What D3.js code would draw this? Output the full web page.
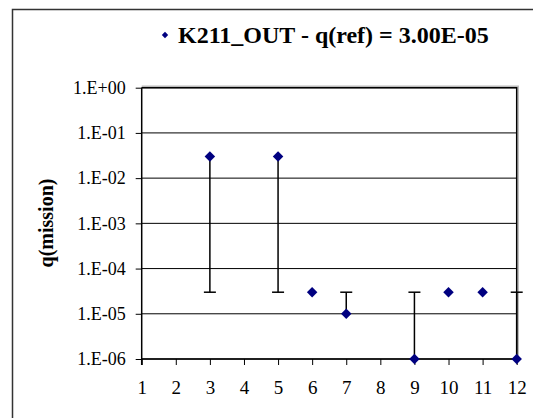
<!DOCTYPE html>
<html>
<head>
<meta charset="utf-8">
<script src="https://cdn.jsdelivr.net/npm/d3@7"></script>
<style>
  body { margin: 0; background: #fff; }
  text { font-family: "Liberation Serif", "Times New Roman", serif; }
</style>
</head>
<body>
<script>
// data
var xValues = [3, 5, 6, 7, 9, 10, 11, 12];
var qMission = [3e-2, 3e-2, 3e-5, 1e-5, 1e-6, 3e-5, 3e-5, 1e-6];
var qRef = 3e-5;
var yTicks = [1e0, 1e-1, 1e-2, 1e-3, 1e-4, 1e-5, 1e-6];
var xTicks = [1, 2, 3, 4, 5, 6, 7, 8, 9, 10, 11, 12];
var seriesName = 'K211_OUT - q(ref) = 3.00E-05';

var width = 533, height = 418;
var pL = 141.7, pR = 516.7, pT = 87.7, pB = 359;

var svg = d3.select('body').append('svg')
    .attr('width', width).attr('height', height);

// outer chart border (runs off the picture)
svg.append('rect')
    .attr('x', 12.5).attr('y', 9.5)
    .attr('width', 540).attr('height', 430)
    .attr('fill', 'none').attr('stroke', '#333').attr('stroke-width', 1.5);

var x = d3.scaleLinear().domain([1, 12]).range([pL, pR]);
var y = d3.scaleLog().domain([1e-6, 1]).range([pB, pT]);

function fmt(d) {
    var e = Math.round(Math.log10(d));
    var s = Math.abs(e) < 10 ? '0' + Math.abs(e) : '' + Math.abs(e);
    return '1.E' + (e < 0 ? '-' : '+') + s;
}

// gridlines
svg.append('g').selectAll('line').data(yTicks).enter().append('line')
    .attr('x1', pL).attr('x2', pR)
    .attr('y1', function(d) { return y(d); })
    .attr('y2', function(d) { return y(d); })
    .attr('stroke', '#000').attr('stroke-width', 1);

// plot area border with shadow
svg.append('path')
    .attr('d', 'M' + pL + ',' + (pT - 1.5) + 'H' + (pR + 1.5) + 'V' + pB)
    .attr('fill', 'none').attr('stroke', '#bbb').attr('stroke-width', 1.5);
svg.append('path')
    .attr('d', 'M' + pL + ',' + pT + 'H' + pR + 'V' + pB)
    .attr('fill', 'none').attr('stroke', '#000').attr('stroke-width', 1.5);

// y axis
var yAxis = svg.append('g')
    .attr('transform', 'translate(' + pL + ',0)')
    .call(d3.axisLeft(y).tickValues(yTicks).tickFormat(fmt).tickSize(6).tickPadding(10));
yAxis.select('.domain').attr('d', 'M0,' + pT + 'V' + (pB + 6)).attr('stroke', '#000').attr('stroke-width', 1.5);
yAxis.selectAll('.tick line').attr('stroke', '#000');
yAxis.selectAll('text').attr('font-size', 18).attr('fill', '#000')
    .style('font-family', '"Liberation Serif", serif');

// x axis
var xAxis = svg.append('g')
    .attr('transform', 'translate(0,' + pB + ')')
    .call(d3.axisBottom(x).tickValues(xTicks).tickFormat(d3.format('d')).tickSize(6).tickPadding(16));
xAxis.select('.domain').attr('d', 'M' + pL + ',0H' + pR).attr('stroke', '#000').attr('stroke-width', 1.5);
xAxis.selectAll('.tick line').attr('stroke', '#000');
xAxis.selectAll('text').attr('font-size', 19).attr('fill', '#000')
    .style('font-family', '"Liberation Serif", serif');

// error bars to q(ref)
var bars = svg.append('g');
xValues.forEach(function(xv, i) {
    if (qMission[i] === qRef) return;
    bars.append('line')
        .attr('x1', x(xv)).attr('x2', x(xv))
        .attr('y1', y(qMission[i])).attr('y2', y(qRef))
        .attr('stroke', '#000').attr('stroke-width', 1.5);
    bars.append('line')
        .attr('x1', x(xv) - 6).attr('x2', x(xv) + 6)
        .attr('y1', y(qRef)).attr('y2', y(qRef))
        .attr('stroke', '#000').attr('stroke-width', 1.5);
});

// markers
var diamond = d3.symbol().type(d3.symbolDiamond2).size(70);
svg.append('g').selectAll('path').data(xValues).enter().append('path')
    .attr('d', diamond)
    .attr('transform', function(d, i) { return 'translate(' + x(d) + ',' + y(qMission[i]) + ')'; })
    .attr('fill', '#000080');

// legend / title
var leg = svg.append('g').attr('transform', 'translate(165,35)');
leg.append('path').attr('d', d3.symbol().type(d3.symbolDiamond2).size(26)).attr('fill', '#000080');
leg.append('text').attr('x', 13).attr('y', 8)
    .attr('font-size', 24).attr('font-weight', 'bold')
    .text(seriesName);

// y axis title
svg.append('text')
    .attr('transform', 'translate(53,223) rotate(-90)')
    .attr('text-anchor', 'middle')
    .attr('font-size', 20).attr('font-weight', 'bold')
    .text('q(mission)');
</script>
</body>
</html>
